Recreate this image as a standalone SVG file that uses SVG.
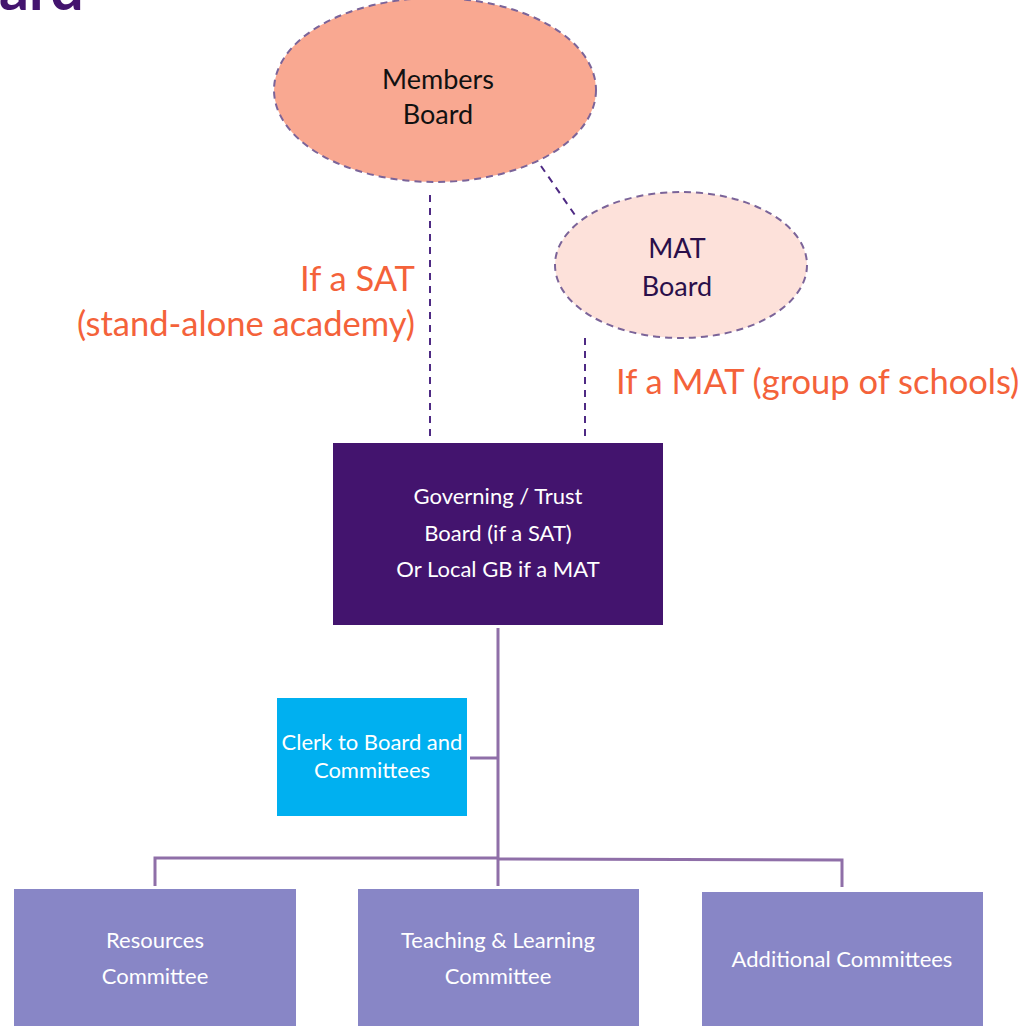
<svg xmlns="http://www.w3.org/2000/svg" width="1026" height="1026" viewBox="0 0 1026 1026">
<style>
  text { font-family: Lato, "Open Sans", "Liberation Sans", sans-serif; }
  .ell { stroke: #7B6499; stroke-width: 2; stroke-dasharray: 7 5; }
  .dash { stroke: #4E2A84; stroke-width: 2; stroke-dasharray: 7 6; fill: none; }
  .solid { stroke: #8F6FA8; stroke-width: 3; fill: none; }
  .lbl { fill: #F4623A; font-size: 34.5px; }
  .wt { fill: #FFFFFF; font-size: 22px; text-anchor: middle; }
  .dk { fill: #111111; font-size: 27px; text-anchor: middle; }
  .comm { fill: #8886C6; }
</style>
<rect width="1026" height="1026" fill="#FFFFFF"/>
<text x="-1" y="10" font-size="59" font-weight="bold" fill="#43146E">ard</text>

<g id="connectors">
  <line class="dash" x1="430" y1="195" x2="430" y2="437"/>
  <line class="dash" x1="541" y1="166" x2="577" y2="218"/>
  <line class="dash" x1="585" y1="338" x2="585" y2="437"/>
  <line class="solid" x1="498" y1="628" x2="498" y2="886"/>
  <line class="solid" x1="470" y1="758" x2="498" y2="758"/>
  <polyline class="solid" points="155,886 155,858 498,858"/>
  <polyline class="solid" points="498,859 842,860 842,887"/>
</g>

<g id="members-board">
  <ellipse class="ell" cx="435" cy="90" rx="161" ry="92" fill="#F9A891"/>
  <text class="dk" x="438" y="89">Members</text>
  <text class="dk" x="438" y="124">Board</text>
</g>

<g id="mat-board">
  <ellipse class="ell" cx="681" cy="265" rx="126" ry="73" fill="#FDE1DA"/>
  <text class="dk" x="677" y="258" style="fill:#2A0F4A">MAT</text>
  <text class="dk" x="677" y="296" style="fill:#2A0F4A">Board</text>
</g>

<g id="label-sat">
  <text class="lbl" x="415" y="291" text-anchor="end">If a SAT</text>
  <text class="lbl" x="415" y="336" text-anchor="end">(stand-alone academy)</text>
</g>

<g id="label-mat">
  <text class="lbl" x="616" y="394">If a MAT (group of schools)</text>
</g>

<g id="governing-board">
  <rect x="333" y="443" width="330" height="182" fill="#43146E"/>
  <text class="wt" x="498" y="504">Governing / Trust</text>
  <text class="wt" x="498" y="541">Board (if a SAT)</text>
  <text class="wt" x="498" y="577">Or Local GB if a MAT</text>
</g>

<g id="clerk">
  <rect x="277" y="698" width="190" height="118" fill="#00B0F0"/>
  <text class="wt" x="372" y="750">Clerk to Board and</text>
  <text class="wt" x="372" y="778">Committees</text>
</g>

<g id="resources-committee">
  <rect class="comm" x="14" y="889" width="282" height="137"/>
  <text class="wt" x="155" y="948">Resources</text>
  <text class="wt" x="155" y="984">Committee</text>
</g>

<g id="teaching-committee">
  <rect class="comm" x="358" y="889" width="281" height="137"/>
  <text class="wt" x="498" y="948">Teaching &amp; Learning</text>
  <text class="wt" x="498" y="984">Committee</text>
</g>

<g id="additional-committees">
  <rect class="comm" x="702" y="892" width="281" height="134"/>
  <text class="wt" x="842" y="967">Additional Committees</text>
</g>
</svg>
